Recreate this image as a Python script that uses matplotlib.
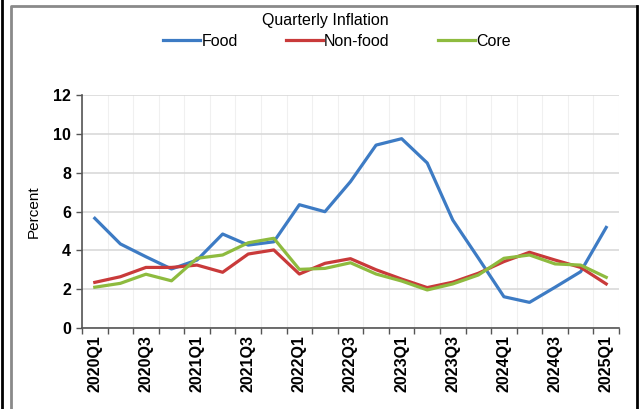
import matplotlib
matplotlib.use("Agg")
from matplotlib import pyplot as plt
from matplotlib.lines import Line2D
import numpy as np

plt.rcParams['font.family'] = ['Liberation Sans', 'DejaVu Sans']

quarters = [f"{y}Q{q}" for y in range(2020, 2025) for q in range(1, 5)] + ["2025Q1"]

food = [5.65, 4.33, 3.67, 3.04, 3.5, 4.84, 4.27, 4.44, 6.35, 5.99, 7.54, 9.42,
        9.75, 8.5, 5.56, 3.6, 1.61, 1.32, 2.1, 2.9, 5.18]
nonfood = [2.35, 2.64, 3.12, 3.12, 3.24, 2.87, 3.81, 4.02, 2.78, 3.33, 3.57, 3.0,
           2.52, 2.08, 2.36, 2.82, 3.42, 3.9, 3.5, 3.12, 2.27]
core = [2.1, 2.3, 2.77, 2.43, 3.59, 3.76, 4.39, 4.62, 3.02, 3.07, 3.36, 2.78,
        2.42, 1.96, 2.27, 2.73, 3.59, 3.76, 3.3, 3.24, 2.61]

W, H = 639, 409
fig = plt.figure(figsize=(W / 100, H / 100), dpi=100)
ax = fig.add_axes([82 / W, 1 - 328 / H, (619 - 82) / W, (328 - 95) / H])

x = np.arange(len(quarters))
ax.plot(x, food, color='#3d7bc4', lw=2.3, label='Food', solid_joinstyle='round')
ax.plot(x, nonfood, color='#c93a3a', lw=2.3, label='Non-food', solid_joinstyle='round')
ax.plot(x, core, color='#8ebb3f', lw=2.3, label='Core', solid_joinstyle='round')

ax.set_xlim(-0.5, len(quarters) - 0.5)
ax.set_ylim(0, 12)
ax.set_yticks(range(0, 13, 2))

# category boundaries carry the ticks and vertical grid
ax.set_xticks(np.arange(-0.5, len(quarters), 1))
ax.set_xticklabels([])
ax.set_xticks(x[::2], minor=True)
ax.set_xticklabels(quarters[::2], minor=True, rotation=90, fontsize=11.5, fontweight='bold')
ax.tick_params(axis='x', which='minor', length=0, pad=5)
ax.tick_params(axis='x', which='major', length=4, width=1, color='#555555')
ax.tick_params(axis='y', length=4, width=1, color='#555555', labelsize=11.5, pad=4)
for t in ax.get_yticklabels():
    t.set_fontweight('bold')

ax.grid(True, axis='y', color='#d9d9d9', lw=1.2)
ax.grid(True, axis='x', which='major', color='#f0f0f0', lw=0.8)
ax.set_axisbelow(True)
for s in ['top', 'right']:
    ax.spines[s].set_visible(False)
for s in ['left', 'bottom']:
    ax.spines[s].set_color('#555555')
    ax.spines[s].set_linewidth(1.2)

ax.set_ylabel('Percent', fontsize=11, labelpad=9)

fig.text(325 / W, 1 - 20 / H, 'Quarterly Inflation', ha='center', va='center', fontsize=11.5)
fig.legend(loc='center', bbox_to_anchor=(337 / W, 1 - 41 / H), ncol=3, frameon=False,
           fontsize=11.5, handlelength=2.3, handletextpad=0.1, columnspacing=3.0)

# surrounding frame
fig.add_artist(Line2D([11 / W, 11 / W, 636 / W], [0, 1 - 6 / H, 1 - 6 / H],
                      transform=fig.transFigure, color='#8a8a8a', lw=2))
fig.add_artist(Line2D([2 / W, 2 / W], [0, 1], transform=fig.transFigure, color='black', lw=2))
fig.add_artist(Line2D([637 / W, 637 / W], [0, 1 - 6 / H], transform=fig.transFigure,
                      color='black', lw=2))

fig.savefig('out.png', dpi=100)
